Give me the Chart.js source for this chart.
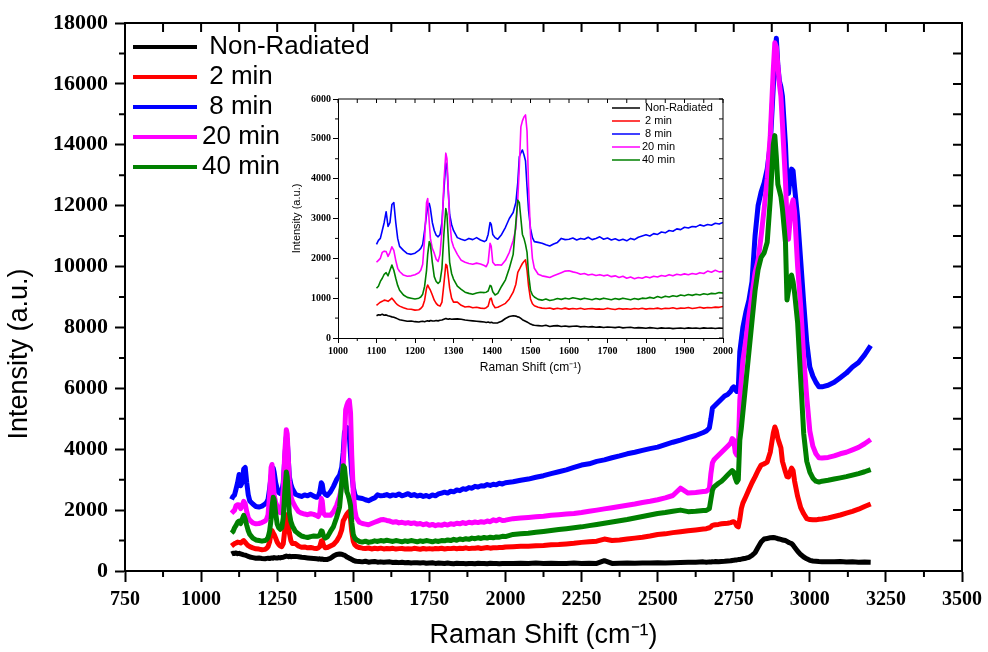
<!DOCTYPE html>
<html>
<head>
<meta charset="utf-8">
<script src="https://cdn.jsdelivr.net/npm/chart.js@4.4.1/dist/chart.umd.min.js"></script>
<style>
  html, body { margin: 0; padding: 0; background: #fff; }
  #wrap { position: relative; width: 988px; height: 652px; }
  #main { position: absolute; left: 0; top: 0; }
  #inset { position: absolute; left: 285px; top: 88px; }
</style>
</head>
<body>
<div id="wrap">
  <canvas id="main" width="988" height="652"></canvas>
  <canvas id="inset" width="450" height="292"></canvas>
</div>
<script>
// Raman shift (cm-1), shared by every series
const shift = [
  1100,1105,1110,1115,1120,1125,1130,1135,1140,1145,1150,1155,1160,
  1170,1180,1190,1200,1210,1215,1220,1225,1230,1233,1237,1240,1245,1250,1255,1260,1265,1270,1275,1280,1283,1287,1290,1295,1300,
  1310,1320,1330,1340,1350,1360,1370,1380,1385,1390,1395,1398,1402,1408,1415,1425,1435,1445,1455,1462,1467,1471,1475,1479,1483,1487,1491,1495,1500,1505,1510,
  1520,1530,1540,1550,1560,1570,1580,1590,1600,
  1610,1620,1630,1640,1650,1660,1670,1680,1690,1700,
  1710,1720,1730,1740,1750,1760,1770,1780,1790,1800,
  1810,1820,1830,1840,1850,1860,1870,1880,1890,1900,
  1910,1920,1930,1940,1950,1960,1970,1980,1990,2000,
  2025,2050,2075,2100,2125,2150,2175,2200,2225,2250,2275,2300,2325,2350,2375,2400,2425,2450,2475,2500,2525,2550,2575,2600,2625,2650,
  2660,2670,2675,2680,2685,2690,2700,2710,2720,2730,2740,2745,2750,2755,2760,2765,2770,2775,2780,2790,
  2800,2810,2820,2830,2840,2850,2860,2870,2880,2885,2890,2895,2900,2905,2910,2920,2925,2930,2935,2940,
  2945,2950,2960,2970,2980,2990,3000,3010,3020,3030,3040,
  3060,3080,3100,3120,3140,3160,3180,3200
];

const nonRadiated = [
  560,585,575,595,570,580,560,545,530,520,500,480,460,
  440,420,425,410,400,415,420,410,425,430,420,440,430,425,440,430,445,450,470,490,480,470,485,470,475,
  480,470,450,440,430,420,410,400,390,400,385,395,380,375,380,420,490,540,560,550,530,520,490,460,440,420,400,380,350,330,320,
  310,300,320,290,305,310,290,300,285,
  295,300,280,290,275,285,270,280,265,275,
  270,260,275,255,265,270,250,260,255,245,
  260,250,240,255,245,250,235,245,250,240,
  255,245,250,240,255,245,250,240,250,245,
  250,255,245,260,250,255,245,250,260,245,255,250,340,250,255,260,255,265,260,270,265,275,280,285,290,300,
  290,300,295,305,300,310,305,315,320,330,335,345,350,360,365,375,380,390,400,420,
  450,510,600,780,950,1050,1070,1090,1100,1090,1080,1060,1050,1040,1020,1000,970,940,920,900,
  850,780,650,540,460,400,350,330,320,310,305,
  305,300,310,295,300,290,295,290
];

const min2 = [
  820,860,900,920,950,940,920,960,1000,940,880,830,800,
  760,730,720,700,710,740,800,950,1250,1330,1250,1200,1080,950,870,820,800,900,1350,1850,1820,1500,1250,1000,900,
  900,820,780,790,760,770,750,740,760,800,980,1000,850,760,770,820,870,980,1150,1350,1650,1720,1800,1870,1920,1960,1700,1300,980,860,810,
  770,750,740,755,725,745,730,750,725,
  740,730,745,720,735,740,725,730,720,745,
  730,715,740,725,735,720,740,730,745,725,
  740,735,750,730,745,740,760,735,750,745,
  765,740,755,770,750,765,760,775,770,790,
  800,810,815,830,840,860,870,890,910,940,960,980,1050,1000,1020,1050,1080,1110,1150,1200,1220,1260,1290,1320,1350,1380,
  1390,1420,1450,1500,1510,1520,1530,1550,1560,1570,1590,1610,1620,1580,1480,1450,1700,2050,2230,2450,
  2680,2900,3090,3300,3480,3520,3580,3900,4530,4730,4600,4350,4200,4050,3600,3250,3100,3090,3250,3380,
  3300,2950,2450,2080,1880,1720,1690,1680,1680,1700,1710,
  1740,1790,1840,1900,1960,2030,2120,2200
];

const min8 = [
  2350,2450,2500,2700,2900,3170,2800,2900,3350,3400,2900,2500,2300,
  2200,2120,2100,2130,2200,2250,2350,2700,3100,3300,3380,3250,2900,2700,2580,2540,2600,2900,3700,4400,4300,3600,3100,2850,2700,
  2520,2480,2450,2500,2470,2520,2460,2420,2450,2600,2900,2850,2600,2520,2480,2600,2780,3000,3150,3400,3900,4550,4650,4720,4600,4450,3800,3200,2750,2520,2420,
  2400,2380,2340,2310,2360,2400,2500,2470,2480,
  2510,2460,2500,2480,2530,2470,2500,2540,2480,2510,
  2460,2490,2450,2480,2440,2500,2470,2530,2560,2590,
  2560,2620,2600,2660,2640,2700,2680,2740,2720,2780,
  2760,2800,2790,2840,2810,2850,2830,2880,2860,2900,
  2930,2980,3020,3080,3130,3200,3260,3320,3400,3480,3520,3600,3650,3720,3780,3850,3900,3960,4020,4070,4150,4230,4300,4380,4450,4550,
  4600,4700,5000,5350,5400,5450,5550,5650,5750,5800,5900,6000,6050,5950,5900,6000,7200,7600,8000,8500,
  8900,9500,11000,12000,12450,12750,13200,14000,15900,16700,17500,16600,16100,15900,15600,14000,12800,12400,12900,13200,
  13150,12600,11600,10200,8800,7500,6700,6400,6200,6050,6050,
  6100,6200,6350,6500,6700,6850,7100,7400
];

const min20 = [
  1900,1950,2000,2150,2180,2170,2050,2150,2290,2200,1950,1750,1670,
  1580,1550,1560,1590,1640,1700,1850,2500,3400,3500,2900,2500,2250,2130,1980,1920,2100,2700,3900,4640,4500,3600,2960,2450,2290,
  2100,1950,1900,1870,1850,1880,1860,1820,1790,1900,2380,2300,1900,1830,1840,1830,1950,2150,2450,2750,3500,4300,5300,5450,5550,5600,5200,3800,2600,2000,1750,
  1600,1560,1540,1520,1560,1600,1640,1680,1690,
  1660,1640,1600,1620,1580,1600,1570,1590,1560,1580,
  1540,1560,1520,1550,1500,1530,1490,1520,1500,1540,
  1510,1550,1530,1570,1550,1590,1560,1600,1580,1610,
  1590,1620,1600,1640,1620,1680,1650,1700,1660,1670,
  1720,1740,1760,1780,1800,1830,1850,1870,1890,1920,1960,2000,2040,2080,2120,2160,2200,2250,2290,2340,2400,2480,2720,2560,2580,2610,
  2620,2700,3200,3550,3650,3700,3800,3900,4000,4100,4200,4350,4300,3900,3810,4000,5600,6270,6900,7600,
  8400,9050,9790,10200,11000,11900,12900,14300,16460,17350,17200,16600,16000,15600,14700,12800,11500,10900,11500,12000,
  12190,11800,10000,8700,7000,5700,4600,4100,3850,3720,3710,
  3730,3780,3850,3900,3980,4060,4180,4320
];

const min40 = [
  1250,1300,1420,1500,1600,1640,1560,1700,1830,1700,1500,1320,1200,
  1080,1020,1000,980,1000,1030,1100,1300,1700,2100,2420,2350,1900,1540,1420,1370,1420,1750,2600,3250,3100,2400,1900,1620,1480,
  1300,1220,1150,1120,1100,1130,1150,1140,1150,1180,1320,1300,1160,1080,1120,1300,1460,1750,2100,2900,3460,3400,3000,2600,2500,2350,2150,1600,1200,1080,1030,
  970,950,980,940,960,990,970,1000,980,
  1010,990,970,1000,980,960,990,970,1000,980,
  960,990,970,1000,980,960,990,970,1000,990,
  1020,1000,1040,1010,1050,1030,1060,1040,1080,1060,
  1090,1070,1100,1080,1110,1090,1120,1110,1140,1130,
  1200,1220,1240,1270,1300,1330,1360,1390,1420,1450,1490,1530,1570,1610,1650,1690,1740,1790,1840,1890,1920,1960,2000,1950,1960,1990,
  1990,2050,2350,2650,2760,2800,2880,2950,3050,3150,3250,3300,3250,3050,2920,3000,4300,4700,5200,6200,
  7200,8200,9200,9900,10300,10450,10800,12200,14000,14300,13600,12700,12500,12300,11900,10800,8900,9200,9600,9720,
  9500,9130,8150,6300,4500,3600,3250,3050,2950,2920,2950,
  2980,3020,3060,3100,3150,3200,3260,3330
];

const seriesLabels = [' Non-Radiated', ' 2 min', ' 8 min', '20 min', '40 min'];
const seriesColors = ['#000000', '#ff0000', '#0000ff', '#ff00ff', '#008000'];
const seriesValues = [nonRadiated, min2, min8, min20, min40];
// origin draws later series on top
const drawOrder = [5, 4, 3, 2, 1];

function toPoints(vals) {
  return shift.map((x, i) => ({ x: x, y: vals[i] }));
}

function makeDatasets(width) {
  return seriesValues.map((vals, i) => ({
    label: seriesLabels[i],
    data: toPoints(vals),
    borderColor: seriesColors[i],
    backgroundColor: seriesColors[i],
    borderWidth: width,
    borderJoinStyle: 'round',
    pointRadius: 0,
    tension: 0,
    order: drawOrder[i]
  }));
}

// box around plot + minor ticks + inward ticks on top/right
const framePlugin = {
  id: 'frame',
  afterDatasetsDraw(chart, args, o) {
    const ctx = chart.ctx, a = chart.chartArea;
    const xs = chart.scales.x, ys = chart.scales.y;
    ctx.save();
    ctx.strokeStyle = '#000';
    ctx.lineWidth = o.lw;
    ctx.beginPath();
    ctx.moveTo(a.left, a.top);
    ctx.lineTo(a.right, a.top);
    ctx.lineTo(a.right, a.bottom);
    ctx.stroke();

    ctx.beginPath();
    for (let v = xs.min; v <= xs.max + 0.01; v += o.xMinor) {
      const p = xs.getPixelForValue(v);
      if (Math.round((v - xs.min) / o.xMinor) % 2 === 1) {
        ctx.moveTo(p, a.bottom);
        ctx.lineTo(p, a.bottom + o.minorLen);
      }
      ctx.moveTo(p, a.top);
      ctx.lineTo(p, a.top + o.inLen);
    }
    for (let v = ys.min; v <= ys.max + 0.01; v += o.yMinor) {
      const p = ys.getPixelForValue(v);
      if (Math.round((v - ys.min) / o.yMinor) % 2 === 1) {
        ctx.moveTo(a.left, p);
        ctx.lineTo(a.left - o.minorLen, p);
      }
      ctx.moveTo(a.right, p);
      ctx.lineTo(a.right - o.inLen, p);
    }
    ctx.stroke();
    ctx.restore();
  }
};

const legendPlugin = {
  id: 'boxLegend',
  afterDraw(chart, args, o) {
    const ctx = chart.ctx;
    ctx.save();
    ctx.font = o.font;
    ctx.textBaseline = 'middle';
    ctx.textAlign = 'left';
    chart.data.datasets.forEach((ds, i) => {
      const y = o.y + i * o.rowH;
      ctx.strokeStyle = ds.borderColor;
      ctx.lineWidth = o.lineW;
      ctx.beginPath();
      ctx.moveTo(o.x, y);
      ctx.lineTo(o.x + o.lineLen, y);
      ctx.stroke();
      ctx.fillStyle = '#000';
      ctx.fillText(ds.label, o.x + o.lineLen + o.gap, y);
    });
    ctx.restore();
  }
};

const yTitlePlugin = {
  id: 'yTitle',
  afterDraw(chart, args, o) {
    const ctx = chart.ctx;
    ctx.save();
    ctx.translate(o.x, o.y);
    ctx.rotate(-Math.PI / 2);
    ctx.font = o.font;
    ctx.fillStyle = '#000';
    ctx.textAlign = 'center';
    ctx.textBaseline = 'middle';
    ctx.fillText(o.text, 0, 0);
    ctx.restore();
  }
};

Chart.defaults.font.family = 'Liberation Sans';
Chart.defaults.color = '#000';

new Chart(document.getElementById('main'), {
  type: 'line',
  data: { datasets: makeDatasets(5) },
  plugins: [framePlugin, legendPlugin, yTitlePlugin],
  options: {
    responsive: false,
    animation: false,
    events: [],
    layout: { padding: { top: 23, right: 24, left: 0, bottom: 0 } },
    scales: {
      x: {
        type: 'linear', min: 750, max: 3500,
        afterFit(s) { s.height = 81; },
        ticks: { stepSize: 250, padding: 6, color: '#000', maxRotation: 0,
          font: { family: 'Liberation Serif', size: 20, weight: 'bold' },
          callback: v => String(v) },
        grid: { drawOnChartArea: false, tickLength: 11, tickWidth: 2, tickColor: '#000' },
        border: { display: true, color: '#000', width: 2 },
        title: { display: true, text: 'Raman Shift (cm\u207B\u00B9)', color: '#000',
          font: { family: 'Liberation Sans', size: 27 }, padding: { top: 0, bottom: 0 } }
      },
      y: {
        type: 'linear', min: 0, max: 18000,
        afterFit(s) { s.width = 125; },
        ticks: { stepSize: 2000, padding: 7, color: '#000',
          font: { family: 'Liberation Serif', size: 22, weight: 'bold' },
          callback: v => String(v) },
        grid: { drawOnChartArea: false, tickLength: 10, tickWidth: 2, tickColor: '#000' },
        border: { display: true, color: '#000', width: 2 }
      }
    },
    plugins: {
      legend: { display: false },
      tooltip: { enabled: false },
      frame: { lw: 2, xMinor: 125, yMinor: 1000, minorLen: 6, inLen: 9 },
      boxLegend: { x: 133, y: 47, rowH: 30, lineLen: 64, gap: 5, lineW: 4,
        font: '26px "Liberation Sans"' },
      yTitle: { x: 20, y: 354, text: 'Intensity (a.u.)', font: '27px "Liberation Sans"' }
    }
  }
});

new Chart(document.getElementById('inset'), {
  type: 'line',
  data: { datasets: makeDatasets(1.6) },
  plugins: [framePlugin, legendPlugin],
  options: {
    responsive: false,
    animation: false,
    events: [],
    layout: { padding: { top: 11, right: 9, left: 0, bottom: 0 } },
    scales: {
      x: {
        type: 'linear', min: 1000, max: 2000,
        afterFit(s) { s.height = 42; },
        ticks: { stepSize: 100, padding: 2, color: '#000', maxRotation: 0,
          font: { family: 'Liberation Serif', size: 10, weight: 'bold' },
          callback: v => String(v) },
        grid: { drawOnChartArea: false, tickLength: 5, tickWidth: 1, tickColor: '#000' },
        border: { display: true, color: '#000', width: 1 },
        title: { display: true, text: 'Raman Shift (cm\u207B\u00B9)', color: '#000',
          font: { family: 'Liberation Sans', size: 12 }, padding: { top: 0, bottom: 5 } }
      },
      y: {
        type: 'linear', min: 0, max: 6000,
        afterFit(s) { s.width = 53; },
        ticks: { stepSize: 1000, padding: 2, color: '#000',
          font: { family: 'Liberation Serif', size: 10, weight: 'bold' },
          callback: v => String(v) },
        grid: { drawOnChartArea: false, tickLength: 5, tickWidth: 1, tickColor: '#000' },
        border: { display: true, color: '#000', width: 1 },
        title: { display: true, text: 'Intensity (a.u.)', color: '#000',
          font: { family: 'Liberation Sans', size: 11 }, padding: { top: 5, bottom: 0 } }
      }
    },
    plugins: {
      legend: { display: false },
      tooltip: { enabled: false },
      frame: { lw: 1, xMinor: 50, yMinor: 500, minorLen: 3, inLen: 4 },
      boxLegend: { x: 327, y: 20, rowH: 13, lineLen: 28, gap: 2, lineW: 1.5,
        font: '11px "Liberation Sans"' }
    }
  }
});
</script>
</body>
</html>
